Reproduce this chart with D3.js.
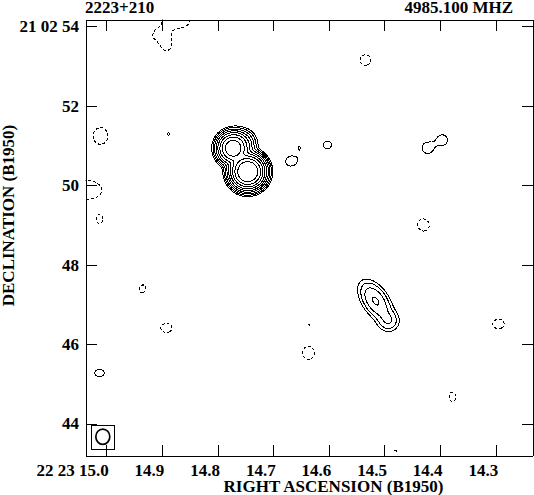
<!DOCTYPE html>
<html><head><meta charset="utf-8">
<script src="https://cdn.jsdelivr.net/npm/d3@7"></script>
<style>
html,body{margin:0;padding:0;background:#fff;}
svg{display:block;}
</style></head><body>
<svg id="chart" width="534" height="495"></svg>
<script>
// ---------------- data ----------------
const sourceName = "2223+210";
const frequencyLabel = "4985.100 MHZ";
const xTitle = "RIGHT ASCENSION (B1950)";
const yTitle = "DECLINATION (B1950)";
const raTicks = [15.0, 14.9, 14.8, 14.7, 14.6, 14.5, 14.4, 14.3];          // s of time (22h23m)
const raTickLabels = ["22 23 15.0","14.9","14.8","14.7","14.6","14.5","14.4","14.3"];
const decTicks = [54, 52, 50, 48, 46, 44];                                   // arcsec (21d02m)
const decTickLabels = ["21 02 54","52","50","48","46","44"];
const raDomain = [15.0372, 14.2340];
const decDomain = [43.194, 54.176];
const contourBase = 0.25;                                                    // mJy/beam
const contourMultipliers = [-1, 1, 2, 4, 8, 16, 32, 64, 128, 256];

// Gaussian components of the map (RA s, Dec arcsec, peak mJy/beam, sigma major/minor arcsec, PA deg)
const compRA    = [14.7456, 14.7725, 14.7569, 14.5161, 14.4928,
                   14.8737, 14.9006, 14.8917, 14.5341, 15.0102, 15.0390, 15.0120,
                   14.8881, 14.6671, 14.6527, 14.6024, 14.4227, 14.3958, 14.4658,
                   14.4299, 14.2951, 14.9348, 14.8917, 15.0120, 14.6365, 14.6365,
                   14.3778, 14.4802];
const compDec   = [50.343, 50.932, 51.040, 47.086, 46.582,
                   54.164, 53.786, 53.509, 53.156, 51.242, 49.882, 49.151,
                   51.292, 50.612, 50.965, 51.015, 50.940, 51.141, 49.101,
                   49.000, 46.506, 47.388, 46.406, 45.272, 46.481, 45.776,
                   44.668, 43.307];
const compPeak  = [184, 62.5, 4.0, 2.15, 0.875,
                   -0.65, -0.45, -0.35, -0.37, -0.46, -0.72, -0.32,
                   0.255, 0.37, 0.25, 0.31, 0.37, 0.36, 0.2525,
                   -0.40, -0.36, -0.31, -0.35, 0.325, -0.255, -0.40,
                   -0.325, -0.255];
const compMajor = [0.173, 0.165, 0.171, 0.300, 0.160,
                   0.250, 0.200, 0.130, 0.150, 0.190, 0.300, 0.164,
                   0.150, 0.170, 0.150, 0.150, 0.155, 0.150, 0.100,
                   0.160, 0.170, 0.160, 0.170, 0.160, 0.200, 0.170,
                   0.170, 0.200];
const compMinor = [0.173, 0.160, 0.171, 0.165, 0.160,
                   0.150, 0.150, 0.130, 0.150, 0.170, 0.170, 0.126,
                   0.150, 0.140, 0.050, 0.150, 0.155, 0.150, 0.100,
                   0.150, 0.140, 0.120, 0.140, 0.130, 0.080, 0.150,
                   0.110, 0.060];
const compPA    = [0, 0, 0, 34, 0,
                   90, 90, 0, 0, 0, 90, 0,
                   0, -70, 0, 0, 0, 0, 0,
                   30, 90, -17, 90, 90, 0, 0,
                   0, 90];
// restoring beam (FWHM arcsec) and where it is drawn
const beamMajor = 0.385, beamMinor = 0.352, beamPA = 0;
const beamRA = 15.0061, beamDec = 43.668;

// ---------------- drawing ----------------
const svg = d3.select("#chart");
const fLeft = 85.5, fRight = 532.5, fTop = 19.5, fBottom = 455.5;
const x = d3.scaleLinear().domain(raDomain).range([fLeft, fRight]);
const y = d3.scaleLinear().domain(decDomain).range([fBottom, fTop]);
const decRef = 21 + 2/60 + 49/3600;
const arcPerSec = 15 * Math.cos(decRef * Math.PI / 180);

// field on a grid (one cell per pixel, a little larger than the frame)
const pad = 8;
const nx = Math.ceil(fRight - fLeft + 2*pad), ny = Math.ceil(fBottom - fTop + 2*pad);
const ra0 = x.invert(fLeft - pad), dec0 = y.invert(fTop - pad);
const dRA = x.invert(fLeft - pad + 1) - ra0;
const dDec = y.invert(fTop - pad + 1) - dec0;
const values = new Float64Array(nx * ny);
for (let k = 0; k < compRA.length; k++) {
  const pa = compPA[k] * Math.PI / 180, s = Math.sin(pa), c = Math.cos(pa);
  const a2 = 2 * compMajor[k] ** 2, b2 = 2 * compMinor[k] ** 2;
  const lim = 6 * compMajor[k];
  for (let j = 0; j < ny; j++) {
    const dy = dec0 + (j + 0.5) * dDec - compDec[k];
    if (Math.abs(dy) > lim) continue;
    for (let i = 0; i < nx; i++) {
      const dx = (ra0 + (i + 0.5) * dRA - compRA[k]) * arcPerSec;
      if (Math.abs(dx) > lim) continue;
      const u = dx * s + dy * c, v = dx * c - dy * s;
      values[j * nx + i] += compPeak[k] * Math.exp(-(u*u / a2 + v*v / b2));
    }
  }
}
const negValues = values.map(v => -v);

const toScreen = d3.geoTransform({
  point(gx, gy) { this.stream.point(x(ra0 + gx * dRA), y(dec0 + gy * dDec)); }
});
const path = d3.geoPath(toScreen);

svg.append("defs").append("clipPath").attr("id", "frameClip")
  .append("rect").attr("x", fLeft).attr("y", fTop)
  .attr("width", fRight - fLeft).attr("height", fBottom - fTop);

const posLevels = contourMultipliers.filter(m => m > 0).map(m => m * contourBase);
const negLevels = contourMultipliers.filter(m => m < 0).map(m => -m * contourBase);
const gC = svg.append("g").attr("clip-path", "url(#frameClip)");
gC.selectAll("path.pos")
  .data(d3.contours().size([nx, ny]).thresholds(posLevels)(values))
  .join("path").attr("class", "pos").attr("d", path)
  .attr("fill", "none").attr("stroke", "#000").attr("stroke-width", 1)
  .attr("shape-rendering", "crispEdges");
gC.selectAll("path.neg")
  .data(d3.contours().size([nx, ny]).thresholds(negLevels)(negValues))
  .join("path").attr("class", "neg").attr("d", path)
  .attr("fill", "none").attr("stroke", "#000").attr("stroke-width", 1)
  .attr("stroke-dasharray", "3,2")
  .attr("shape-rendering", "crispEdges");

// beam
const bcx = x(beamRA), bcy = y(beamDec);
const brx = Math.abs(x(beamRA + beamMinor / 2 / arcPerSec) - bcx);
const bry = Math.abs(y(beamDec + beamMajor / 2) - bcy);
const bpad = 4.5;
svg.append("rect").attr("x", Math.round(bcx - brx - bpad) + 0.5).attr("y", Math.round(bcy - bry - bpad) + 0.5)
  .attr("width", Math.round(2*brx + 2*bpad)).attr("height", Math.round(2*bry + 2*bpad))
  .attr("fill", "none").attr("stroke", "#000").attr("stroke-width", 1).attr("shape-rendering", "crispEdges");
svg.append("ellipse").attr("cx", bcx).attr("cy", bcy).attr("rx", brx).attr("ry", bry)
  .attr("transform", `rotate(${-beamPA},${bcx},${bcy})`)
  .attr("fill", "none").attr("stroke", "#000").attr("stroke-width", 1.7);

// axes
const font = "'Liberation Serif','Times New Roman',serif";
function styleAxis(g) {
  g.attr("font-family", font).attr("font-size", 17).attr("font-weight", "bold").attr("color", "#000");
  g.selectAll("line,path").attr("shape-rendering", "crispEdges");
}
const gB = svg.append("g").attr("transform", `translate(0,${fBottom})`)
  .call(d3.axisBottom(x).tickValues(raTicks).tickFormat((d, i) => raTickLabels[i])
    .tickSizeInner(-11).tickSizeOuter(0).tickPadding(8));
styleAxis(gB);
gB.selectAll("text").attr("text-anchor", "end").attr("x", 2);

const gT = svg.append("g").attr("transform", `translate(0,${fTop})`)
  .call(d3.axisTop(x).tickValues(raTicks).tickFormat(() => "")
    .tickSizeInner(-11).tickSizeOuter(0));
styleAxis(gT);

const gL = svg.append("g").attr("transform", `translate(${fLeft},0)`)
  .call(d3.axisLeft(y).tickValues(decTicks).tickFormat((d, i) => decTickLabels[i])
    .tickSizeInner(-11).tickSizeOuter(0).tickPadding(6.5));
styleAxis(gL);

const gR = svg.append("g").attr("transform", `translate(${fRight},0)`)
  .call(d3.axisRight(y).tickValues(decTicks).tickFormat(() => "")
    .tickSizeInner(-11).tickSizeOuter(0));
styleAxis(gR);

// titles
const tStyle = s => s.attr("font-family", font).attr("font-size", 17).attr("font-weight", "bold").attr("fill", "#000");
svg.append("text").attr("x", 85).attr("y", 12.5).text(sourceName).call(tStyle);
svg.append("text").attr("x", 513).attr("y", 12.5).attr("text-anchor", "end").text(frequencyLabel).call(tStyle);
svg.append("text").attr("x", 333.5).attr("y", 491.5).attr("text-anchor", "middle").text(xTitle).call(tStyle);
svg.append("text").attr("transform", "translate(14,215.5) rotate(-90)").attr("text-anchor", "middle").text(yTitle).call(tStyle);
</script>
</body></html>
